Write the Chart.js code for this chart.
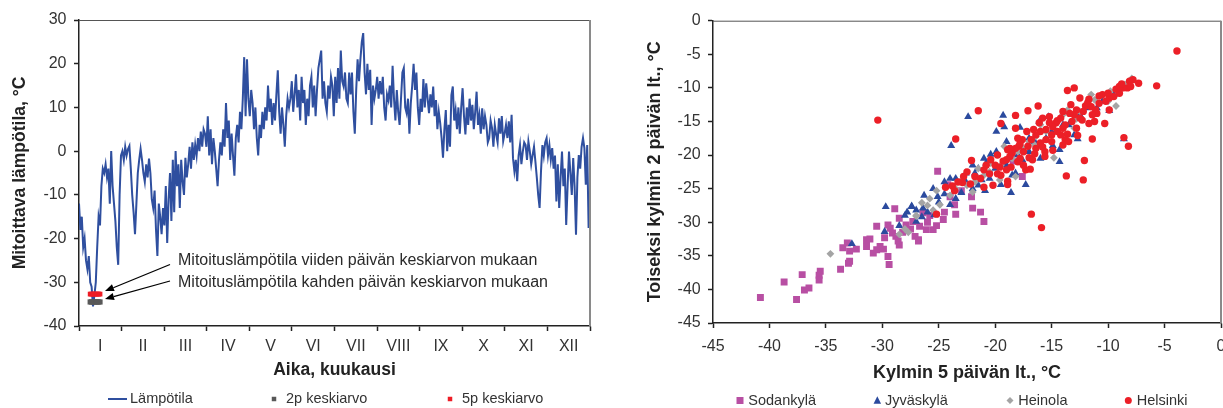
<!DOCTYPE html>
<html>
<head>
<meta charset="utf-8">
<script src="https://cdn.jsdelivr.net/npm/chart.js@4/dist/chart.umd.min.js"></script>
<style>
  html, body { margin: 0; padding: 0; background: #fff; overflow: hidden; }
  #wrap { position: relative; width: 1223px; height: 408px; overflow: hidden; }
  #left  { position: absolute; left: 0; top: 0; }
  #right { position: absolute; left: 600px; top: 0; }
</style>
</head>
<body>
<div id="wrap">
  <canvas id="left" width="600" height="408"></canvas>
  <canvas id="right" width="640" height="408"></canvas>
</div>
<script>
// ---------- Daily design temperature record, one array per month (°C) ----------
const monthLabels = ['I','II','III','IV','V','VI','VII','VIII','IX','X','XI','XII'];

const tJan = [-12,-18,-15,-22,-20,-25,-27,-24,-30,-31,-35.5,-33,-30,-22,-15,-17,-8,-4,-5,-3,-6,-4,-12,0,-8,-12,-16,-22,-26,-10,-1];
const tFeb = [0,-2,1,-1,0.5,1.2,-4,-10,-14,-19,-12,-5,-2,0.5,-2,-5,-7,-3,-6,-1.7,-5,-11,-13,-9,-18,-24,-12,-15];
const tMar = [-19,-13,-17,-8,-21,-11,-5,-16,-2,-14,0,-8,-3,-13,-2,-7,-10,-1.5,-6,-3,1,-4,2,-2,1.5,-1,3,0,4.5,1,5];
const tApr = [4,1,8,-1,5,-3,3,0,-4,-8,-2,2,-1,5,1,11,3,7,-2,4,-1,-5.6,3,6,2,9,5,12,21.5,8];
const tMay = [21,12,8,14,11,5,10,3,-1,6,3,9,5,10,7,15,9,12,6,11,7,13,18.5,9,4,10,6,1,8,12,10];
const tJun = [12,16,9,13,17.6,10,14,7,17,11,14,6,12,8,15,17,10,15,8,14,19,21,23,12,16,11,9,15,12,17];
const tJul = [15,8,17,11,19,12,23,16,14.8,18,12,11,18,13,18,9,4,14,21,16,21,25,27,18,13,20,14,18.6,6,15,12];
const tAug = [14,17,12,16,13,17,10,7,13,11.7,15,10,19.5,12,7,14,9,6,12,18,19,10,8.7,12,4,11,15,20,14,18,10];
const tSep = [6,12,9,16.5,10,15.5,12,8.7,13,10,14.8,8,11.7,5,9,6.4,3,-1.5,5,9.4,0,6,1,12.8,14.8,7,9.4,5,10,4];
const tOct = [10,14.4,8,3.8,10,6,12,7,10.6,5,9,13.6,6,8.3,4,9.8,5,8,6,2,3,7,5.3,1,6,3.8,2,7.5,4,8,2.3];
const tNov = [4,6,3,6.8,2,8.3,-1.6,-4.6,-2,-6.9,-1,1.4,-3,-0.1,2,1.4,-2,2.2,0,-3,-0.9,1,-2.4,-6,-10,-13,-4.6,1.4,-1,2];
const tDec = [3,-1,1.4,-2,0.7,-4,-1,-11.5,-3,-13,-6,-0.1,-8,-4,-16.9,-8,-0.1,-5,-10,-1.6,-8,-19.1,-6,-0.9,-4,1,3,0.7,-7.7,1.4,-17.6];

// Design temperatures (2-day and 5-day means) over the coldest spell
const designDays = [8,9,10,11,12,13,14,15];
const mean5Day = -32.7;
const mean2Day = -34.5;
const designNotes = [
  'Mitoituslämpötila viiden päivän keskiarvon mukaan',
  'Mitoituslämpötila kahden päivän keskiarvon mukaan'
];

// ---------- Coldest 5-day mean (x) vs second coldest 2-day mean (y), °C ----------
const sodankyla = [
  [-40.8,-41.2],[-38.7,-38.9],[-37.6,-41.5],[-37.1,-37.8],[-36.9,-40.1],[-36.5,-39.8],[-35.6,-37.9],[-35.5,-37.3],
  [-35.6,-38.6],[-33.7,-37.0],[-33.5,-33.8],[-33.1,-33.1],[-32.9,-34.3],[-32.9,-35.8],[-33.0,-36.1],[-32.3,-34.0],
  [-31.4,-32.6],[-31.4,-33.6],[-31.1,-32.5],[-30.8,-34.6],[-30.5,-30.6],[-30.5,-34.1],[-30.2,-33.6],[-29.9,-34.0],
  [-29.8,-32.3],[-29.5,-35.1],[-29.4,-36.3],[-29.5,-30.4],[-29.3,-30.9],[-29.1,-31.6],[-28.9,-28.0],[-28.8,-32.1],
  [-28.6,-32.8],[-28.5,-29.4],[-28.5,-33.4],[-27.9,-30.4],[-27.3,-29.9],[-27.1,-32.1],[-26.8,-32.6],[-26.7,-30.6],
  [-26.4,-28.6],[-26.1,-31.1],[-26.8,-32.8],[-25.5,-31.1],[-24.6,-29.6],[-23.6,-27.4],[-22.0,-27.9],[-21.3,-28.5],
  [-21.0,-29.9],[-25.1,-22.4],[-24.2,-24.4],[-17.6,-23.2],[-18.4,-20.9],[-23.0,-25.3],[-22.1,-26.2],[-24.0,-26.2],
  [-25.8,-29.0],[-26.0,-30.0],[-25.2,-30.5],[-24.5,-28.5],[-23.5,-28.8],[-27.5,-31.0],[-28.2,-31.5]
];
const jyvaskyla = [
  [-32.7,-33.2],[-29.7,-27.7],[-29.8,-31.4],[-28.0,-29.0],[-27.4,-27.7],[-27.0,-29.9],[-26.4,-27.9],[-22.4,-14.3],
  [-19.3,-14.1],[-19.2,-15.8],[-19.9,-16.5],[-23.9,-18.6],[-17.8,-15.9],[-16.1,-15.0],[-15.3,-14.3],[-9.9,-13.4],
  [-12.7,-17.6],[-8.6,-17.6],[-14.3,-19.2],[-14.3,-21.0],[-14.9,-18.6],[-17.6,-20.7],[-17.3,-24.4],[-18.6,-25.6],
  [-19.5,-24.4],[-19.9,-19.5],[-20.4,-19.9],[-20.8,-21.2],[-21.2,-23.7],[-20.9,-25.3],[-21.8,-22.7],[-22.6,-22.7],
  [-22.6,-24.0],[-23.0,-25.6],[-25.1,-26.2],[-26.3,-26.0],[-18.2,-22.7],[-24.0,-27.4],[-25.4,-28.9],[-27.4,-27.6],
  [-26.0,-28.5],[-25.0,-27.0],[-24.5,-25.8],[-23.5,-26.5],[-22.0,-25.0],[-21.5,-24.5],[-20.0,-22.0],[-19.0,-21.5],
  [-18.0,-20.0],[-17.0,-19.5],[-16.5,-18.0],[-15.5,-17.5],[-15.0,-16.5],[-13.5,-15.5],[-12.5,-14.0],[-11.0,-13.0],
  [-10.5,-12.0],[-9.5,-11.0],[-8.5,-10.0],[-13.0,-17.0],[-16.0,-20.5],[-21.0,-20.5],[-23.5,-23.5],[-24.5,-24.0],
  [-28.5,-30.5],[-27.8,-28.5],[-22.0,-21.5],[-21.5,-22.0],[-19.0,-18.0],[-17.0,-17.5],[-14.0,-15.5],[-12.0,-13.0],
  [-24.0,-23.5],[-25.5,-25.0],[-20.5,-23.5],[-18.5,-23.0],[-27.0,-28.2],[-26.5,-29.2]
];
const heinola = [
  [-34.6,-34.7],[-27.7,-31.5],[-27.0,-29.0],[-26.5,-27.1],[-7.9,-8.6],[-9.3,-12.7],[-11.2,-11.8],[-13.6,-13.3],
  [-16.4,-17.2],[-14.8,-20.4],[-18.2,-23.2],[-19.6,-23.7],[-20.4,-21.2],[-19.2,-18.7],[-21.8,-24.0],[-25.2,-25.3],
  [-24.9,-27.4],[-25.5,-28.2],[-27.0,-29.1],[-8.5,-9.5],[-9.8,-10.5],[-10.5,-11.0],[-12.0,-12.5],[-12.5,-13.5],
  [-14.0,-14.0],[-15.0,-15.5],[-15.5,-16.5],[-17.0,-18.0],[-17.5,-19.0],[-18.5,-20.5],[-19.5,-21.5],[-20.5,-22.5],
  [-21.0,-23.0],[-22.5,-24.5],[-23.5,-25.0],[-24.0,-26.0],[-26.0,-27.5],[-28.0,-31.0],[-28.5,-31.8],[-13.0,-16.0],
  [-10.0,-12.0],[-16.0,-15.5],[-11.5,-11.0],[-22.0,-25.5],[-23.0,-23.8],[-18.0,-19.5],[-16.5,-18.5],[-14.5,-15.0],
  [-12.8,-14.6],[-21.5,-22.0],[-25.8,-26.5]
];
const helsinki = [
  [-30.4,-14.8],[-3.9,-4.5],[-5.7,-9.7],[-7.3,-9.3],[-8.1,-9.0],[-8.3,-10.0],[-8.7,-10.0],[-9.0,-10.8],
  [-9.5,-11.3],[-9.9,-11.5],[-10.5,-11.0],[-9.9,-13.3],[-10.3,-15.3],[-11.1,-13.3],[-11.0,-13.8],[-11.4,-14.0],
  [-11.7,-11.7],[-12.0,-12.7],[-11.5,-12.8],[-11.2,-15.0],[-11.7,-15.3],[-12.3,-14.8],[-12.8,-13.3],[-12.8,-16.0],
  [-13.0,-10.0],[-13.6,-10.4],[-11.4,-17.6],[-8.6,-17.4],[-8.2,-18.7],[-12.1,-20.8],[-12.2,-23.7],[-13.7,-23.1],
  [-12.7,-17.1],[-13.6,-16.9],[-13.8,-17.7],[-14.6,-15.2],[-14.5,-14.9],[-14.9,-15.8],[-15.5,-16.2],[-15.2,-15.2],
  [-16.1,-15.2],[-16.0,-16.5],[-16.4,-17.0],[-15.5,-17.7],[-15.6,-19.5],[-16.4,-19.0],[-16.7,-20.7],[-17.0,-20.4],
  [-17.1,-18.7],[-16.8,-17.7],[-17.6,-17.7],[-17.9,-18.7],[-18.2,-19.0],[-18.5,-19.7],[-18.7,-20.2],[-18.9,-19.2],
  [-19.0,-20.7],[-19.3,-20.9],[-18.7,-19.0],[-16.2,-12.7],[-17.1,-13.4],[-18.2,-14.1],[-18.2,-16.0],[-19.5,-15.3],
  [-21.5,-13.4],[-23.5,-17.6],[-22.1,-20.8],[-20.4,-20.7],[-21.0,-22.2],[-21.8,-23.2],[-22.9,-24.1],[-22.2,-24.3],
  [-19.0,-22.2],[-17.3,-22.2],[-16.9,-22.1],[-18.9,-23.9],[-18.9,-24.4],[-24.4,-24.8],[-23.6,-25.3],[-23.3,-24.0],
  [-15.6,-20.2],[-14.9,-19.3],[-25.2,-28.8],[-16.8,-28.8],[-15.9,-30.8],
  [-14.0,-16.0],[-13.2,-15.0],[-12.5,-14.5],[-14.2,-17.0],[-15.0,-17.0],[-17.5,-19.5],[-17.8,-20.5],[-16.0,-18.2],
  [-19.8,-20.0],[-20.0,-21.5],[-20.8,-21.5],[-19.6,-21.8],[-10.8,-12.3],[-10.2,-12.0],[-9.3,-10.2],[-8.0,-9.8],
  [-12.5,-11.5],[-13.3,-12.5],[-14.0,-13.5],[-15.8,-14.5],[-17.2,-16.5],[-18.0,-17.5],[-14.0,-18.5],[-13.5,-18.0],
  [-20.5,-22.8],[-21.3,-23.5],[-22.5,-22.5],[-19.5,-23.0],[-20.2,-24.5],[-21.0,-24.8],[-18.0,-21.0],[-17.5,-21.5],
  [-16.5,-19.8],[-15.8,-18.8],[-15.0,-18.0],[-14.5,-16.5],[-13.8,-15.5],[-13.0,-14.0],[-12.2,-13.5],[-11.8,-12.2],
  [-10.8,-11.2],[-10.0,-10.8],[-9.0,-9.8],[-8.8,-9.4],[-7.8,-8.8],[-17.8,-18.3],[-16.6,-16.2],[-15.2,-14.3],
  [-14.2,-14.5],[-13.4,-13.8],[-18.6,-21.8],[-19.8,-22.8],[-22.8,-23.2],[-23.8,-24.6]
];

// ---------- Shared styling ----------
const FONT = '"Liberation Sans", Arial, Helvetica, sans-serif';
const TICK_COLOR = '#333333';
const AXIS_COLOR = '#222222';
const TITLE_COLOR = '#222222';

const dailyTemp = [].concat(tJan, tFeb, tMar, tApr, tMay, tJun, tJul, tAug, tSep, tOct, tNov, tDec);
const toXY = pts => pts.map(p => ({ x: p[0], y: p[1] }));

function drawSymbol(ctx, style, x, y, size, color) {
  ctx.save();
  ctx.fillStyle = color;
  ctx.strokeStyle = color;
  ctx.beginPath();
  if (style === 'line') {
    ctx.lineWidth = 2;
    ctx.moveTo(x - size / 2, y);
    ctx.lineTo(x + size / 2, y);
    ctx.stroke();
    ctx.restore();
    return;
  }
  if (style === 'rect') {
    ctx.rect(x - size / 2, y - size / 2, size, size);
  } else if (style === 'triangle') {
    ctx.moveTo(x, y - size * 0.58);
    ctx.lineTo(x + size / 2, y + size * 0.42);
    ctx.lineTo(x - size / 2, y + size * 0.42);
    ctx.closePath();
  } else if (style === 'rectRot') {
    ctx.moveTo(x, y - size / 2);
    ctx.lineTo(x + size / 2, y);
    ctx.lineTo(x, y + size / 2);
    ctx.lineTo(x - size / 2, y);
    ctx.closePath();
  } else {
    ctx.arc(x, y, size / 2, 0, Math.PI * 2);
  }
  ctx.fill();
  ctx.restore();
}

// Key row under each chart, built from the datasets themselves
const keyRow = {
  id: 'keyRow',
  afterDraw(chart, args, opts) {
    const ctx = chart.ctx;
    ctx.save();
    ctx.font = opts.fontSize + 'px ' + FONT;
    ctx.textBaseline = 'middle';
    ctx.textAlign = 'left';
    opts.items.forEach(it => {
      const ds = chart.data.datasets[it.dataset];
      const color = ds.showLine === false || chart.config.type === 'scatter' ? ds.backgroundColor : ds.borderColor;
      const style = it.style || ds.pointStyle;
      drawSymbol(ctx, style, it.sx, opts.y, it.size, color);
      ctx.fillStyle = TICK_COLOR;
      ctx.fillText(ds.label, it.tx, opts.y);
    });
    ctx.restore();
  }
};

// Top and right edges of the plot frame
const plotFrame = {
  id: 'plotFrame',
  afterDraw(chart) {
    const { ctx, chartArea: a } = chart;
    ctx.save();
    ctx.strokeStyle = '#555';
    ctx.lineWidth = 1;
    ctx.beginPath();
    ctx.moveTo(a.left, a.top + 0.5);
    ctx.lineTo(a.right, a.top + 0.5);
    ctx.stroke();
    ctx.strokeStyle = '#8a8a8a';
    ctx.lineWidth = 2;
    ctx.beginPath();
    ctx.moveTo(a.right, a.top);
    ctx.lineTo(a.right, a.bottom);
    ctx.stroke();
    ctx.restore();
  }
};

// Callout text with arrows pointing at the design temperature bars
const designCallout = {
  id: 'designCallout',
  afterDatasetsDraw(chart) {
    const { ctx, scales: { x, y } } = chart;
    const tipX = x.getPixelForValue(designDays[designDays.length - 1]) + 5;
    const values = [mean5Day, mean2Day];
    const textX = 178, firstY = 261, gap = 21.5;
    const startY = [264.5, 281];
    ctx.save();
    ctx.font = '16px ' + FONT;
    ctx.fillStyle = '#2a2a2a';
    ctx.textBaseline = 'middle';
    designNotes.forEach((t, i) => ctx.fillText(t, textX, firstY + i * gap));
    ctx.strokeStyle = '#000';
    ctx.fillStyle = '#000';
    ctx.lineWidth = 1.2;
    values.forEach((v, i) => {
      const tx = tipX, ty = y.getPixelForValue(v) - 3;
      const sx = 170, sy = startY[i];
      const ang = Math.atan2(ty - sy, tx - sx);
      const hl = 9, hw = 3.6;
      const bx = tx - hl * Math.cos(ang), by = ty - hl * Math.sin(ang);
      ctx.beginPath();
      ctx.moveTo(sx, sy);
      ctx.lineTo(bx, by);
      ctx.stroke();
      ctx.beginPath();
      ctx.moveTo(tx, ty);
      ctx.lineTo(bx + hw * Math.sin(ang), by - hw * Math.cos(ang));
      ctx.lineTo(bx - hw * Math.sin(ang), by + hw * Math.cos(ang));
      ctx.closePath();
      ctx.fill();
    });
    ctx.restore();
  }
};

Chart.defaults.font.family = FONT;
Chart.defaults.color = TICK_COLOR;

// ---------- Left: annual temperature curve ----------
new Chart(document.getElementById('left'), {
  type: 'line',
  data: {
    datasets: [
      { label: 'Lämpötila', data: dailyTemp.map((v, i) => ({ x: i, y: v })),
        borderColor: '#2f4f9f', backgroundColor: '#2f4f9f', borderWidth: 2,
        pointRadius: 0, tension: 0, fill: false, order: 2 },
      { label: '2p keskiarvo', data: designDays.map(d => ({ x: d, y: mean2Day })),
        showLine: false, pointStyle: 'rect', pointRadius: 3.7, borderWidth: 0,
        backgroundColor: '#585858', order: 1 },
      { label: '5p keskiarvo', data: designDays.map(d => ({ x: d, y: mean5Day })),
        showLine: false, pointStyle: 'rect', pointRadius: 3.4, borderWidth: 0,
        backgroundColor: '#ee1c25', order: 0 }
    ]
  },
  options: {
    responsive: false,
    animation: false,
    events: [],
    layout: { padding: { left: 0, right: 10, top: 20, bottom: 0 } },
    plugins: {
      legend: { display: false },
      tooltip: { enabled: false },
      keyRow: {
        y: 399, fontSize: 14.5,
        items: [
          { dataset: 0, style: 'line', sx: 117.5, size: 19, tx: 130 },
          { dataset: 1, sx: 274, size: 4.5, tx: 286 },
          { dataset: 2, sx: 450, size: 4.5, tx: 462 }
        ]
      }
    },
    scales: {
      x: {
        type: 'linear', min: 0, max: 365,
        afterBuildTicks: s => { s.ticks = Array.from({ length: 25 }, (_, k) => ({ value: k * 365 / 24 })); },
        afterFit: s => { s.height = 82; },
        ticks: {
          autoSkip: false, maxRotation: 0, minRotation: 0, padding: 6,
          color: TICK_COLOR, font: { size: 16 },
          callback: (v, i) => (i % 2 ? monthLabels[(i - 1) / 2] : '')
        },
        grid: { drawOnChartArea: false, tickLength: 5, tickWidth: 1.5,
                tickColor: c => (c.index % 2 ? 'rgba(0,0,0,0)' : AXIS_COLOR) },
        border: { color: AXIS_COLOR, width: 1.5 },
        title: { display: true, text: 'Aika, kuukausi', color: TITLE_COLOR,
                 font: { size: 17.5, weight: 'bold' }, padding: { top: 0, bottom: 27 } }
      },
      y: {
        min: -40, max: 30,
        afterFit: s => { s.width = 79; },
        ticks: { stepSize: 10, padding: 7.5, color: TICK_COLOR, font: { size: 16 } },
        grid: { drawOnChartArea: false, tickLength: 5, tickWidth: 1.5, tickColor: AXIS_COLOR },
        border: { color: AXIS_COLOR, width: 1.5 },
        title: { display: true, text: 'Mitoittava lämpötila, °C', color: TITLE_COLOR,
                 font: { size: 17.5, weight: 'bold' }, padding: { top: 9.5, bottom: 0 } }
      }
    }
  },
  plugins: [plotFrame, designCallout, keyRow]
});

// ---------- Right: station scatter ----------
new Chart(document.getElementById('right'), {
  type: 'scatter',
  data: {
    datasets: [
      { label: 'Sodankylä', data: toXY(sodankyla), pointStyle: 'rect', pointRadius: 4.9,
        backgroundColor: '#b84fa3', borderWidth: 0, order: 3 },
      { label: 'Jyväskylä', data: toXY(jyvaskyla), pointStyle: 'triangle', pointRadius: 4.6,
        backgroundColor: '#2b4a9e', borderWidth: 0, order: 2 },
      { label: 'Heinola', data: toXY(heinola), pointStyle: 'rectRot', pointRadius: 3.9,
        backgroundColor: '#a4a4a4', borderWidth: 0, order: 1 },
      { label: 'Helsinki', data: toXY(helsinki), pointStyle: 'circle', pointRadius: 3.7,
        backgroundColor: '#ec1f27', borderWidth: 0, order: 0 }
    ]
  },
  options: {
    responsive: false,
    animation: false,
    events: [],
    layout: { padding: { left: 0, right: 19, top: 20.7, bottom: 0 } },
    plugins: {
      legend: { display: false },
      tooltip: { enabled: false },
      keyRow: {
        y: 400.5, fontSize: 14.5,
        items: [
          { dataset: 0, sx: 140, size: 7, tx: 148.3 },
          { dataset: 1, sx: 277.3, size: 7.5, tx: 285 },
          { dataset: 2, sx: 410, size: 7, tx: 418.3 },
          { dataset: 3, sx: 528.3, size: 7, tx: 536.7 }
        ]
      }
    },
    scales: {
      x: {
        type: 'linear', min: -45, max: 0,
        afterFit: s => { s.height = 85; },
        ticks: { stepSize: 5, padding: 9, color: TICK_COLOR, font: { size: 16 }, maxRotation: 0 },
        grid: { drawOnChartArea: false, tickLength: 5, tickWidth: 1.5, tickColor: AXIS_COLOR },
        border: { color: AXIS_COLOR, width: 1.5 },
        title: { display: true, text: 'Kylmin 5 päivän lt., °C', color: TITLE_COLOR,
                 font: { size: 18, weight: 'bold' }, padding: { top: 0, bottom: 24 } }
      },
      y: {
        min: -45, max: 0,
        afterFit: s => { s.width = 113; },
        ticks: { stepSize: 5, padding: 7.3, color: TICK_COLOR, font: { size: 16 } },
        grid: { drawOnChartArea: false, tickLength: 5, tickWidth: 1.5, tickColor: AXIS_COLOR },
        border: { color: AXIS_COLOR, width: 1.5 },
        title: { display: true, text: 'Toiseksi kylmin 2 päivän lt., °C', color: TITLE_COLOR,
                 font: { size: 18, weight: 'bold' }, padding: { top: 44, bottom: 0 } }
      }
    }
  },
  plugins: [plotFrame, keyRow]
});
</script>
</body>
</html>
